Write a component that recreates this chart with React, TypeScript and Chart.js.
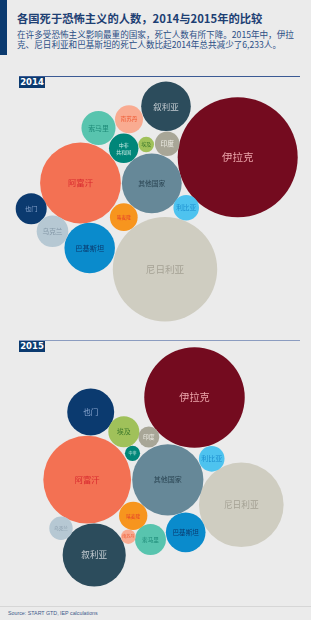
import React, { useEffect, useRef } from 'react';
import { Chart, registerables } from 'chart.js';

Chart.register(...registerables);

// ---- Data ----
const countries = ['伊拉克', '尼日利亚', '阿富汗', '其他国家', '巴基斯坦', '叙利亚', '索马里', '也门', '乌克兰', '中非共和国', '南苏丹', '喀麦隆', '利比亚', '印度', '埃及'];
const deaths2014 = [9929, 7512, 4505, 2466, 1760, 1698, 801, 663, 689, 596, 541, 530, 452, 416, 168];
const deaths2015 = [6960, 4940, 5312, 3496, 1086, 2748, 659, 1519, 378, 159, 147, 553, 454, 304, 662];
const labels2014 = [['伊拉克'], ['尼日利亚'], ['阿富汗'], ['其他国家'], ['巴基斯坦'], ['叙利亚'], ['索马里'], ['也门'], ['乌克兰'], ['中非', '共和国'], ['南苏丹'], ['喀麦隆'], ['利比亚'], ['印度'], ['埃及']];
const labels2015 = [['伊拉克'], ['尼日利亚'], ['阿富汗'], ['其他国家'], ['巴基斯坦'], ['叙利亚'], ['索马里'], ['也门'], ['乌克兰'], ['中非'], ['南苏丹'], ['喀麦隆'], ['利比亚'], ['印度'], ['埃及']];

// ---- Packed-bubble layout (panel units) ----
const layoutX2014 = [237.7, 165, 80.5, 151.8, 89.7, 166, 98.5, 31.2, 52.5, 123.7, 129, 123.8, 186.2, 167.2, 146.2];
const layoutY2014 = [79.3, 191.2, 105, 105.3, 170, 28.3, 50, 130.7, 153.2, 70.3, 41.3, 139.2, 129.8, 65.8, 66.5];
const layoutX2015 = [194.5, 241.3, 87.2, 167.8, 185.7, 94.2, 150.5, 90.7, 61, 132.5, 128.3, 133.2, 211.7, 148.8, 123.8];
const layoutY2015 = [57.5, 164.8, 139.7, 139.8, 192.3, 215, 199.5, 72, 188.3, 113.3, 196.7, 175.8, 118.8, 97, 91.7];

// ---- Styles ----
const bubbleColors = ['#740b1f', '#cfcdc1', '#f37153', '#668898', '#0a8bcc', '#2c4c5c', '#58c4ae', '#0b3a6f', '#b6c8d3', '#008679', '#f9ab91', '#f7951e', '#4ec3ef', '#a8a697', '#a0c15a'];
const labelColors = ['#eba4aa', '#a5a295', '#d8282e', '#2a4452', '#0b3a6e', '#c3cbd1', '#1d8a78', '#8aa6cf', '#8598a8', '#c9ece5', '#ef5a33', '#e5412a', '#1c8fcf', '#eeede6', '#3f7a2c'];
const labelSizes2014 = [10.5, 9.6, 8.4, 6.8, 7.2, 8.5, 6.9, 6.2, 6.7, 5, 5.6, 4.7, 6.7, 6.7, 5];
const labelSizes2015 = [10.2, 8.7, 8.3, 7, 6.6, 8.6, 5.6, 7.5, 4.7, 4, 4, 4.7, 7, 5.8, 7];
const RADIUS_PER_SQRT = 60 / Math.sqrt(9929);
const LABEL_FONT = '"Noto Sans CJK SC", "Noto Sans", sans-serif';

const labelPlugin = {
  id: 'bubbleLabels',
  afterDatasetsDraw(chart: any, _args: any, opts: any) {
    const ctx = chart.ctx;
    const meta = chart.getDatasetMeta(0);
    const labels = opts.labels as string[][];
    const sizes = opts.sizes as number[];
    ctx.save();
    ctx.textAlign = 'center';
    ctx.textBaseline = 'middle';
    meta.data.forEach((el: any, i: number) => {
      const lines = labels[i];
      const fs = sizes[i];
      ctx.font = `${fs}px ${LABEL_FONT}`;
      ctx.fillStyle = labelColors[i];
      const lh = fs * 1.35;
      const startY = el.y - ((lines.length - 1) * lh) / 2;
      lines.forEach((ln, j) => ctx.fillText(ln, el.x, startY + j * lh));
    });
    ctx.restore();
  },
};

function BubblePanel(props: { deaths: number[]; xs: number[]; ys: number[]; labels: string[][]; sizes: number[]; top: number; height: number }) {
  const ref = useRef<HTMLCanvasElement>(null);
  useEffect(() => {
    if (!ref.current) return;
    const data = props.deaths.map((d, i) => ({ x: props.xs[i], y: props.ys[i], r: RADIUS_PER_SQRT * Math.sqrt(d) }));
    const chart = new Chart(ref.current, {
      type: 'bubble',
      data: {
        labels: countries,
        datasets: [
          {
            data,
            backgroundColor: bubbleColors,
            borderWidth: 0,
            hoverBorderWidth: 0,
            clip: false,
          } as any,
        ],
      },
      options: {
        animation: false,
        responsive: false,
        events: [],
        layout: { padding: 0, autoPadding: false },
        scales: {
          x: { type: 'linear', min: 0, max: 311, display: false },
          y: { type: 'linear', min: 0, max: props.height, reverse: true, display: false },
        },
        plugins: {
          legend: { display: false },
          tooltip: { enabled: false },
          bubbleLabels: { labels: props.labels, sizes: props.sizes },
        } as any,
      },
      plugins: [labelPlugin],
    });
    return () => chart.destroy();
  }, []);
  return (
    <div style={{ position: 'absolute', left: 0, top: props.top, width: 311, height: props.height }}>
      <canvas ref={ref} width={311} height={props.height} style={{ width: 311, height: props.height, display: 'block' }} />
    </div>
  );
}

function YearHeader(props: { year: string; top: number; lineColor: string }) {
  return (
    <>
      <div style={{ position: 'absolute', left: 19, top: props.top, width: 281, height: 1, background: props.lineColor }} />
      <div
        style={{
          position: 'absolute',
          left: 19,
          top: props.top + 1,
          width: 26,
          height: 11,
          background: '#0b3a6f',
          color: '#ffffff',
          font: 'bold 8.5px "DejaVu Sans", sans-serif',
          lineHeight: '11px',
          textAlign: 'center',
        }}
      >
        {props.year}
      </div>
    </>
  );
}

export default function App() {
  return (
    <div
      style={{
        position: 'absolute',
        left: 0,
        top: 0,
        width: 311,
        height: 620,
        background: '#ebebeb',
        overflow: 'hidden',
        fontFamily: '"Noto Sans CJK SC", sans-serif',
      }}
    >
      <div style={{ position: 'absolute', left: 0, top: 0, width: 7, height: 55, background: '#0b3a6f' }} />
      <div
        style={{
          position: 'absolute',
          left: 17,
          top: 11,
          whiteSpace: 'nowrap',
          font: 'bold 11.3px "Noto Sans CJK SC", sans-serif',
          lineHeight: '14px',
          color: '#1d3f73',
        }}
      >
        各国死于恐怖主义的人数，2014与2015年的比较
      </div>
      <div
        style={{
          position: 'absolute',
          left: 17,
          top: 28.7,
          whiteSpace: 'nowrap',
          font: '8.6px "Noto Sans CJK SC", sans-serif',
          lineHeight: '10.7px',
          color: '#2b4f86',
        }}
      >
        在许多受恐怖主义影响最重的国家，死亡人数有所下降。2015年中，伊拉
        <br />
        克、尼日利亚和巴基斯坦的死亡人数比起2014年总共减少了6,233人。
      </div>

      <YearHeader year="2014" top={76} lineColor="#3b5a94" />
      <YearHeader year="2015" top={339.5} lineColor="#8b9cc0" />

      <BubblePanel deaths={deaths2014} xs={layoutX2014} ys={layoutY2014} labels={labels2014} sizes={labelSizes2014} top={78} height={252} />
      <BubblePanel deaths={deaths2015} xs={layoutX2015} ys={layoutY2015} labels={labels2015} sizes={labelSizes2015} top={340} height={260} />

      <div style={{ position: 'absolute', left: 0, top: 605.5, width: 311, height: 1, background: '#d6d6d6' }} />
      <div
        style={{
          position: 'absolute',
          left: 8,
          top: 609.5,
          whiteSpace: 'nowrap',
          font: '5.3px "Liberation Sans", Arial, sans-serif',
          lineHeight: '7px',
          color: '#3d5a8a',
        }}
      >
        Source: START GTD, IEP calculations
      </div>
    </div>
  );
}
